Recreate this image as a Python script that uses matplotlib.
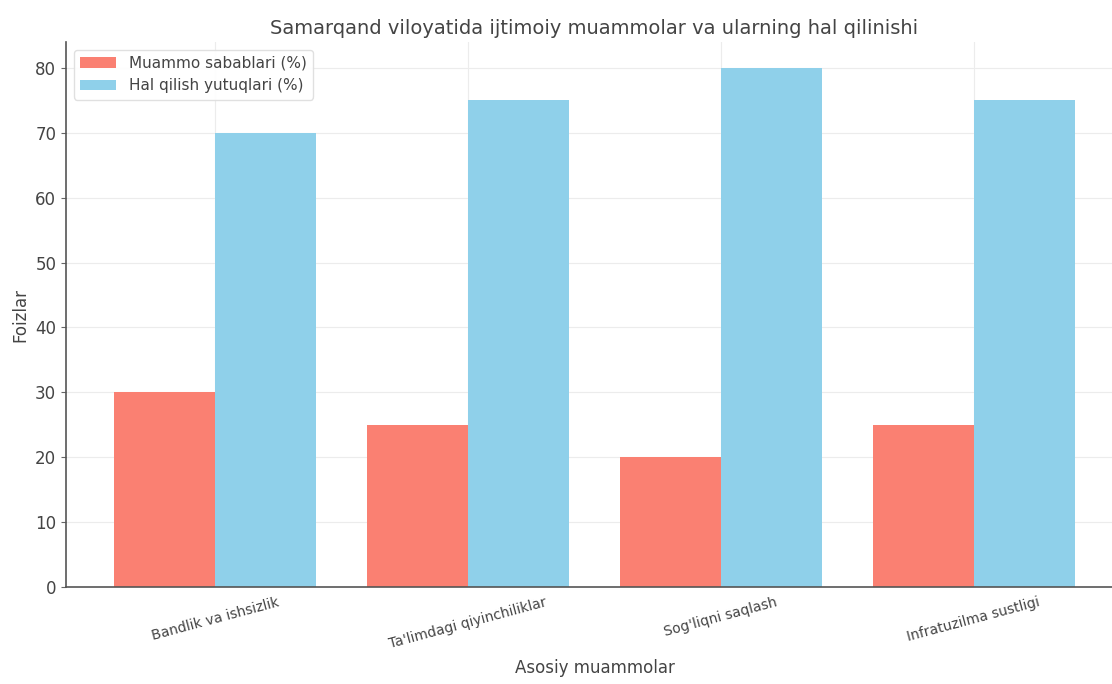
import numpy as np
import matplotlib
matplotlib.use("Agg")
import matplotlib.pyplot as plt

categories = ["Bandlik va ishsizlik", "Ta'limdagi qiyinchiliklar",
              "Sog'liqni saqlash", "Infratuzilma sustligi"]
muammo = [30, 25, 20, 25]
yutuq = [70, 75, 80, 75]

txt = "#444444"
plt.rcParams['font.family'] = ['DejaVu Sans']

fig = plt.figure(figsize=(11.12, 6.84), dpi=100)
ax = fig.add_axes([66 / 1112, 1 - 587 / 684, (1123 - 66) / 1112, (587 - 42) / 684])

x = np.arange(len(categories))
w = 0.4
ax.bar(x - w / 2, muammo, w, color="#fa8072", label="Muammo sabablari (%)", zorder=2)
ax.bar(x + w / 2, yutuq, w, color="#8fd0ea", label="Hal qilish yutuqlari (%)", zorder=2)

ax.set_xticks(x)
ax.set_xticklabels(categories, rotation=15, fontsize=10, color=txt)
ax.tick_params(axis='y', labelsize=12, labelcolor=txt, color="#666666")
ax.tick_params(axis='x', length=0, pad=6)
ax.set_ylim(0, 84)
ax.set_xlim(-0.59, 3.59)

ax.grid(True, color="#ececec", linewidth=0.8, zorder=0)
ax.set_axisbelow(True)
for s in ["top", "right"]:
    ax.spines[s].set_visible(False)
for s in ["left", "bottom"]:
    ax.spines[s].set_color("#555555")
    ax.spines[s].set_linewidth(1.2)

ax.set_title("Samarqand viloyatida ijtimoiy muammolar va ularning hal qilinishi",
             fontsize=14, color=txt, pad=6)
ax.set_xlabel("Asosiy muammolar", fontsize=12, color=txt, labelpad=6)
ax.set_ylabel("Foizlar", fontsize=12, color=txt)

ax.legend(loc="upper left", fontsize=11, labelcolor=txt, framealpha=0.9,
          edgecolor="#dddddd", handlelength=2.4)

fig.savefig("out.png", dpi=100)
